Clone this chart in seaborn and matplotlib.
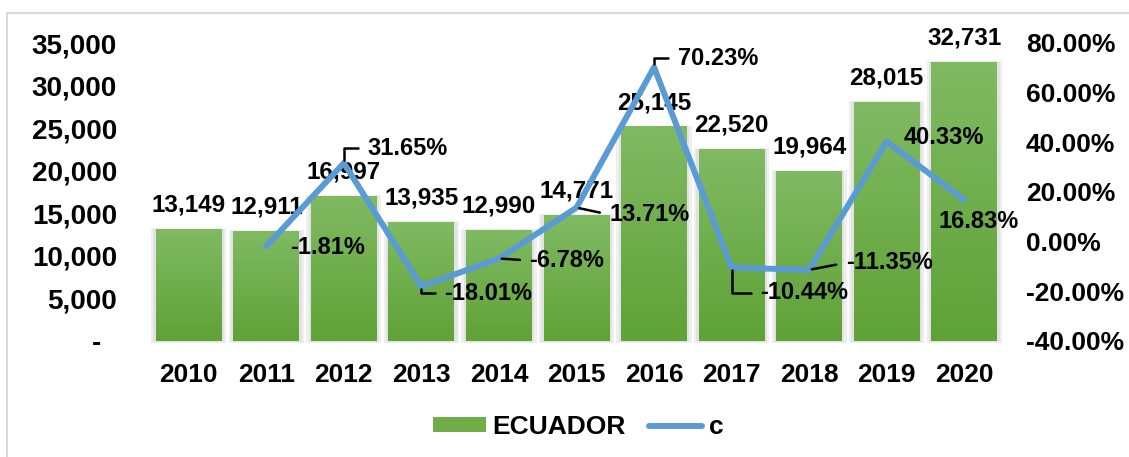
import matplotlib
matplotlib.use("Agg")
import matplotlib.pyplot as plt
from matplotlib.patches import Rectangle, Patch
from matplotlib.lines import Line2D
from matplotlib.colors import LinearSegmentedColormap
from matplotlib.ticker import FuncFormatter, MultipleLocator
import numpy as np
import pandas as pd
import seaborn as sns

# datos
years = ['2010', '2011', '2012', '2013', '2014', '2015', '2016', '2017', '2018', '2019', '2020']
ecuador = [13149, 12911, 16997, 13935, 12990, 14771, 25145, 22520, 19964, 28015, 32731]
growth = [np.nan, -1.81, 31.65, -18.01, -6.78, 13.71, 70.23, -10.44, -11.35, 40.33, 16.83]

sns.set_theme(style='white')
plt.rcParams['font.family'] = ['Liberation Sans', 'DejaVu Sans']
plt.rcParams['font.weight'] = 'bold'
plt.rcParams['text.color'] = 'black'
plt.rcParams['xtick.color'] = 'black'
plt.rcParams['ytick.color'] = 'black'

df = pd.DataFrame({'year': years, 'ECUADOR': ecuador, 'c': growth})
df['pos'] = np.arange(len(df))

W, H = 1129, 457
fig = plt.figure(figsize=(W / 100, H / 100), dpi=100)
ax = fig.add_axes([150 / W, 1 - 341 / H, 853 / W, 298 / H])

sns.barplot(data=df, x='year', y='ECUADOR', color='#70AD47', width=0.85, ax=ax, zorder=3)

# degradado verde + sombra suave
cmap = LinearSegmentedColormap.from_list('verde', ['#5FA236', '#80BA63'])
grad = np.linspace(0, 1, 256).reshape(-1, 1)
for p in ax.patches:
    x0, w, h = p.get_x(), p.get_width(), p.get_height()
    ax.add_patch(Rectangle((x0 - 0.06, -250), w + 0.12, h + 250 + 120, color='#efefef',
                           zorder=1, clip_on=False, lw=0))
    ax.add_patch(Rectangle((x0 - 0.03, -120), w + 0.06, h + 120 + 60, color='#e2e2e2',
                           zorder=2, clip_on=False, lw=0))
    ax.imshow(grad, extent=(x0, x0 + w, 0, h), aspect='auto', cmap=cmap,
              origin='lower', zorder=3)
    p.set_facecolor('none')
    p.set_edgecolor('none')

ax.set_xlim(-0.5, 10.5)
ax.set_ylim(0, 35000)
ax.yaxis.set_major_locator(MultipleLocator(5000))
ax.yaxis.set_major_formatter(FuncFormatter(lambda v, p: f'{v:,.0f}' if v else '-  '))
ax.tick_params(axis='y', length=0, pad=23.8, labelsize=20)
ax.tick_params(axis='x', length=0, pad=15.8, labelsize=19)
ax.set_xlabel('')
ax.set_ylabel('')

for i, v in enumerate(ecuador):
    ax.annotate(f'{v:,}', (i, v), xytext=(0, 24), textcoords='offset pixels',
                ha='center', va='center', fontsize=17.5, fontweight='bold', zorder=5)

ax2 = ax.twinx()
sns.lineplot(data=df, x='pos', y='c', ax=ax2, color='#5B9BD5', lw=4.3,
             solid_capstyle='round')
ax2.set_ylim(-40, 80)
ax2.set_xlim(-0.5, 10.5)
ax2.yaxis.set_major_locator(MultipleLocator(20))
ax2.yaxis.set_major_formatter(FuncFormatter(lambda v, p: f'{v:.2f}%'))
ax2.tick_params(axis='y', length=0, pad=16.6, labelsize=19)
ax2.set_xlabel('')
ax2.set_ylabel('')

for a in (ax, ax2):
    for s in a.spines.values():
        s.set_visible(False)

# posiciones de las etiquetas de porcentaje (pixeles)
offsets = [None, (61, -1), (64, 15), (67, -7), (68, -2), (73, -7), (64, 9),
           (73, -25), (80, 7), (57, 4), (14, -22)]
leaders = [None, None, 'angle', 'angle', 'arc3', 'arc3', 'angle', 'angle', 'arc3', None, None]
for i, v in enumerate(growth):
    if np.isnan(v):
        continue
    props = None
    if leaders[i] == 'angle':
        props = dict(arrowstyle='-', color='black', lw=1.8, relpos=(0, 0.5), patchA=None,
                     shrinkA=7, shrinkB=2, connectionstyle='angle,angleA=0,angleB=90,rad=0')
    elif leaders[i] == 'arc3':
        props = dict(arrowstyle='-', color='black', lw=1.8, relpos=(0, 0.5), patchA=None,
                     shrinkA=7, shrinkB=2)
    ax2.annotate(f'{v:.2f}%', (i, v), xytext=offsets[i], textcoords='offset pixels',
                 ha='center', va='center', fontsize=17, fontweight='bold',
                 arrowprops=props, zorder=6)

handles = [Patch(facecolor='#6FAE47', edgecolor='none'),
           Line2D([], [], color='#5B9BD5', lw=4.3, solid_capstyle='round')]
fig.legend(handles, ['ECUADOR', 'c'], loc='center', bbox_to_anchor=(578 / W, 1 - 427 / H),
           ncol=2, frameon=False, fontsize=19, handlelength=2.0, handleheight=0.5,
           handletextpad=0.25, columnspacing=0.9)

fig.add_artist(Rectangle((7 / W, -0.1), 1.2, (H - 13) / H + 0.1, transform=fig.transFigure,
                         fill=False, edgecolor='#d9d9d9', lw=1.5))

fig.savefig('out.png', dpi=100)
